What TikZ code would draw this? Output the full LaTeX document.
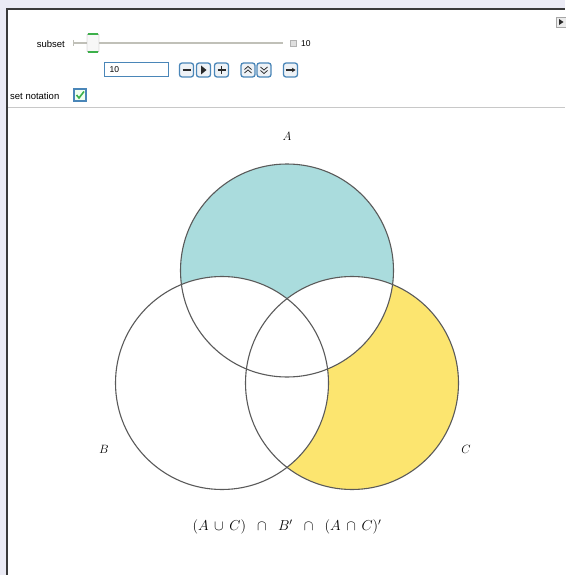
\documentclass[tikz,border=0pt]{standalone}
\usepackage{fontspec}
\newfontfamily\uifont{Liberation Sans}
\usetikzlibrary{arrows.meta}
\definecolor{bgl}{HTML}{EBEBF5}
\definecolor{framec}{HTML}{3A3A3A}
\definecolor{sepc}{HTML}{C8C8C8}
\definecolor{tealA}{HTML}{AADCDD}
\definecolor{yellowC}{HTML}{FCE56F}
\definecolor{vennline}{HTML}{5A5A5A}
\definecolor{boxblue}{HTML}{4A86B8}
\definecolor{btnfill}{HTML}{EEF2F6}
\definecolor{iconc}{HTML}{2A2A2A}
\definecolor{trackc}{HTML}{C0C0B8}
\definecolor{thumbgreen}{HTML}{3CB04A}
\begin{document}
\begin{tikzpicture}[x=1pt,y=-1pt,
  ui/.style={font=\uifont\fontsize{9.5}{11}\selectfont, inner sep=0pt},
  btn/.style={draw=boxblue, line width=1.3pt, fill=btnfill, rounded corners=2.5pt, minimum width=14pt, minimum height=14pt, inner sep=0pt},
  icon/.style={draw=iconc, line width=1.1pt},
  venn/.style={draw=vennline, line width=1.1pt},
  lbl/.style={font=\fontsize{13}{15}\selectfont, inner sep=0pt}]
\useasboundingbox (0,0) rectangle (565,575);
\fill[bgl] (0,0) rectangle (565,575);
\fill[white] (7,9) rectangle (565,575);
\draw[framec, line width=1.2pt] (7,575) -- (7,9) -- (565,9);
\draw[sepc, line width=0.8pt] (8,107) -- (565,107);

% slider
\node[ui, anchor=east] (subsetlbl) at (65,44) {subset};
\coordinate (trackL) at (73,43);
\coordinate (trackR) at (283,43);
\draw[trackc, line width=1.6pt] (trackL) -- (trackR);
\draw[trackc, line width=0.8pt] (73,40) -- (73,46);
\node[draw=gray!70, fill=gray!6, rounded corners=1.5pt, minimum width=12pt, minimum height=19pt, inner sep=0pt] (thumb) at (93,43) {};
\draw[thumbgreen, line width=2pt] ([xshift=1pt,yshift=-0.5pt]thumb.north west) -- ([xshift=-1pt,yshift=-0.5pt]thumb.north east);
\draw[thumbgreen, line width=2pt] ([xshift=1pt,yshift=0.5pt]thumb.south west) -- ([xshift=-1pt,yshift=0.5pt]thumb.south east);
\node[draw=gray!60, fill=gray!25, minimum size=6pt, inner sep=0pt] (endsq) at (293,43) {};
\node[ui, anchor=west, font=\uifont\fontsize{8.5}{10}\selectfont] (maxval) at (301,43.5) {10};

% input box and buttons
\node[draw=boxblue, line width=1pt, fill=white, minimum width=64pt, minimum height=14pt, inner sep=0pt] (inbox) at (136,70) {};
\node[ui, anchor=west, font=\uifont\fontsize{8.5}{10}\selectfont] (inval) at ([xshift=6pt]inbox.west) {10};
\node[btn] (bminus) at (186.5,70) {};
\node[btn] (bplay) at (203.5,70) {};
\node[btn] (bplus) at (221.5,70) {};
\node[btn] (bup) at (248,70) {};
\node[btn] (bdown) at (264,70) {};
\node[btn] (barrow) at (290.5,70) {};
\draw[icon] ([xshift=-4pt]bminus.center) -- ([xshift=4pt]bminus.center);
\fill[iconc] ([xshift=-2.5pt,yshift=4.5pt]bplay.center) -- ([xshift=3pt]bplay.center) -- ([xshift=-2.5pt,yshift=-4.5pt]bplay.center) -- cycle;
\draw[icon] ([xshift=-4pt]bplus.center) -- ([xshift=4pt]bplus.center);
\draw[icon] ([yshift=-4pt]bplus.center) -- ([yshift=4pt]bplus.center);
\draw[icon, line width=0.8pt] ([xshift=-3.5pt,yshift=0.5pt]bup.center) -- ([yshift=3.5pt]bup.center) -- ([xshift=3.5pt,yshift=0.5pt]bup.center);
\draw[icon, line width=0.8pt] ([xshift=-3.5pt,yshift=-3pt]bup.center) -- ([yshift=0pt]bup.center) -- ([xshift=3.5pt,yshift=-3pt]bup.center);
\draw[icon, line width=0.8pt] ([xshift=-3.5pt,yshift=-0.5pt]bdown.center) -- ([yshift=-3.5pt]bdown.center) -- ([xshift=3.5pt,yshift=-0.5pt]bdown.center);
\draw[icon, line width=0.8pt] ([xshift=-3.5pt,yshift=3pt]bdown.center) -- ([yshift=0pt]bdown.center) -- ([xshift=3.5pt,yshift=3pt]bdown.center);
\draw[icon, -{Stealth[length=3.5pt,width=4.5pt]}] ([xshift=-5pt]barrow.center) -- ([xshift=5pt]barrow.center);

% checkbox
\node[ui, anchor=west] (setlbl) at (10,96) {set notation};
\node[draw=boxblue, line width=1.2pt, fill=green!6, minimum size=12pt, inner sep=0pt] (chk) at (80,95) {};
\draw[thumbgreen, line width=1.6pt] ([xshift=-3.5pt,yshift=0pt]chk.center) -- ([xshift=-1pt,yshift=-3pt]chk.center) -- ([xshift=4pt,yshift=3.5pt]chk.center);

% options icon top right
\node[draw=gray!70, fill=gray!15, line width=0.8pt, minimum size=10pt, inner sep=0pt] (opts) at (561,22) {};
\fill[iconc] ([xshift=-2pt,yshift=3pt]opts.center) -- ([xshift=2.5pt]opts.center) -- ([xshift=-2pt,yshift=-3pt]opts.center) -- cycle;

% Venn diagram
\coordinate (cA) at (287,270.5);
\coordinate (cB) at (222,383);
\coordinate (cC) at (352,383);
\fill[tealA] (cA) circle[radius=106.5];
\fill[yellowC] (cC) circle[radius=106.5];
\fill[white] (cB) circle[radius=106.5];
\begin{scope}
  \clip (cA) circle[radius=106.5];
  \fill[white] (cC) circle[radius=106.5];
\end{scope}
\draw[venn] (cA) circle[radius=106.5];
\draw[venn] (cB) circle[radius=106.5];
\draw[venn] (cC) circle[radius=106.5];

\node[lbl] (labA) at (287,136) {$A$};
\node[lbl] (labB) at (104,449) {$B$};
\node[lbl] (labC) at (466,449) {$C$};
\node[lbl, font=\fontsize{14}{16}\selectfont] (formula) at (287,527) {$(A\,\cup\,C)\;\;\cap\;\;B'\;\;\cap\;\;(A\,\cap\,C)'$};
\end{tikzpicture}
\end{document}
